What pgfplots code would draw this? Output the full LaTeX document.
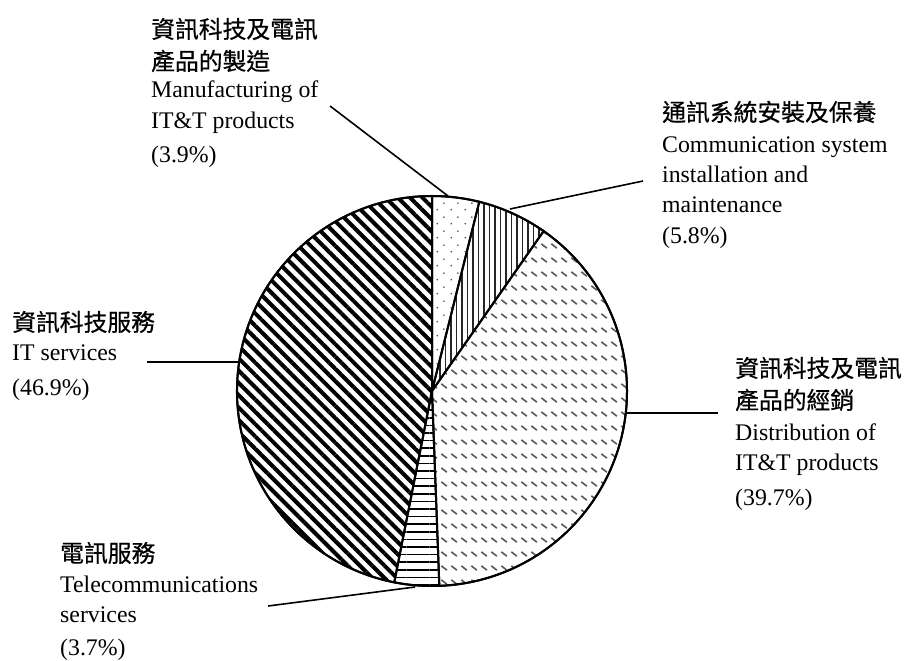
\documentclass[border=0pt]{standalone}
\usepackage{fontspec}
\setmainfont{Liberation Serif}
\newfontfamily\cjk[FakeBold=0.6]{Noto Sans CJK TC}
\usepackage{pgfplots}
\pgfplotsset{compat=1.18}
\usetikzlibrary{patterns.meta}

% fill patterns of the five slices
\tikzdeclarepattern{
  name=sparsedots,
  type=uncolored,
  bottom left={(0bp,0bp)},
  top right={(14bp,14bp)},
  tile size={(14bp,14bp)},
  code={
    \fill (3.5bp,3.5bp) circle (0.9bp);
    \fill (10.5bp,10.5bp) circle (0.9bp);
  }
}
\tikzdeclarepattern{
  name=diagdash,
  type=uncolored,
  bottom left={(0bp,0bp)},
  top right={(10bp,14.4bp)},
  tile size={(10bp,14.4bp)},
  code={
    \draw[line width=1.7bp] (1.5bp,9.5bp) -- (7.5bp,5bp);
  }
}

\tikzset{
  lbl/.style={anchor=base west, inner sep=0pt,
    font=\fontsize{23.8bp}{30bp}\selectfont},
  ch/.style={lbl, font=\fontsize{23.8bp}{30bp}\selectfont\cjk},
}

\begin{document}
\begin{tikzpicture}
% shares in per cent, clockwise from the top
\def\pManu{3.9}
\def\pComm{5.8}
\def\pDist{39.7}
\def\pTele{3.7}
\def\pServ{46.9}
\pgfmathsetmacro\aA{90}
\pgfmathsetmacro\aB{\aA-3.6*\pManu}
\pgfmathsetmacro\aC{\aB-3.6*\pComm}
\pgfmathsetmacro\aD{\aC-3.6*\pDist}
\pgfmathsetmacro\aE{\aD-3.6*\pTele}
\pgfmathsetmacro\aF{\aE-3.6*\pServ}
\def\R{195bp}
\begin{axis}[
    hide axis,
    scale only axis,
    width=904bp, height=661bp,
    xmin=0, xmax=904,
    ymin=0, ymax=661,
    y dir=reverse,
    clip=false,
]

% slices
\draw[line width=2bp, pattern=sparsedots, pattern color=black!75]
  (axis cs:432,391) -- ++(\aA:\R) arc[start angle=\aA, end angle=\aB, radius=\R] -- cycle;
\draw[line width=2bp, pattern={Lines[angle=90, distance=5.5bp, line width=1.8bp]}, pattern color=black!85]
  (axis cs:432,391) -- ++(\aB:\R) arc[start angle=\aB, end angle=\aC, radius=\R] -- cycle;
\draw[line width=2bp, pattern=diagdash, pattern color=black!65]
  (axis cs:432,391) -- ++(\aC:\R) arc[start angle=\aC, end angle=\aD, radius=\R] -- cycle;
\draw[line width=2bp, pattern={Lines[angle=0, distance=7.6bp, line width=1.5bp]}, pattern color=black]
  (axis cs:432,391) -- ++(\aD:\R) arc[start angle=\aD, end angle=\aE, radius=\R] -- cycle;
\draw[line width=2bp, pattern={Lines[angle=-45, distance=8.7bp, line width=4bp]}, pattern color=black]
  (axis cs:432,391) -- ++(\aE:\R) arc[start angle=\aE, end angle=\aF, radius=\R] -- cycle;
\draw[line width=2bp] (axis cs:432,391) circle[radius=\R];

% leader lines
\addplot[black, mark=none, line width=1.6bp] coordinates {(330,106) (448,196)};
\addplot[black, mark=none, line width=1.6bp] coordinates {(510,209) (643,181)};
\addplot[black, mark=none, line width=1.6bp] coordinates {(627,413) (718,413)};
\addplot[black, mark=none, line width=1.6bp] coordinates {(147,362) (238,362)};
\addplot[black, mark=none, line width=1.6bp] coordinates {(268,606) (415,587)};

% labels
\node[ch]  at (axis cs:151,38)  {資訊科技及電訊};
\node[ch]  at (axis cs:151,70)  {產品的製造};
\node[lbl] at (axis cs:151,97)  {Manufacturing of};
\node[lbl] at (axis cs:151,128) {IT\&T products};
\node[lbl] at (axis cs:151,162) {(3.9\%)};

\node[ch]  at (axis cs:662,121) {通訊系統安裝及保養};
\node[lbl] at (axis cs:662,152) {Communication system};
\node[lbl] at (axis cs:662,182) {installation and};
\node[lbl] at (axis cs:662,212) {maintenance};
\node[lbl] at (axis cs:662,243) {(5.8\%)};

\node[ch]  at (axis cs:735,377) {資訊科技及電訊};
\node[ch]  at (axis cs:735,409) {產品的經銷};
\node[lbl] at (axis cs:735,440) {Distribution of};
\node[lbl] at (axis cs:735,470) {IT\&T products};
\node[lbl] at (axis cs:735,505) {(39.7\%)};

\node[ch]  at (axis cs:12,331)  {資訊科技服務};
\node[lbl] at (axis cs:12,360)  {IT services};
\node[lbl] at (axis cs:12,395)  {(46.9\%)};

\node[ch]  at (axis cs:60,562)  {電訊服務};
\node[lbl] at (axis cs:60,592)  {Telecommunications};
\node[lbl] at (axis cs:60,622)  {services};
\node[lbl] at (axis cs:60,655)  {(3.7\%)};
\end{axis}
\pgfresetboundingbox
\path (current axis.south west) rectangle (current axis.north east);
\end{tikzpicture}
\end{document}
